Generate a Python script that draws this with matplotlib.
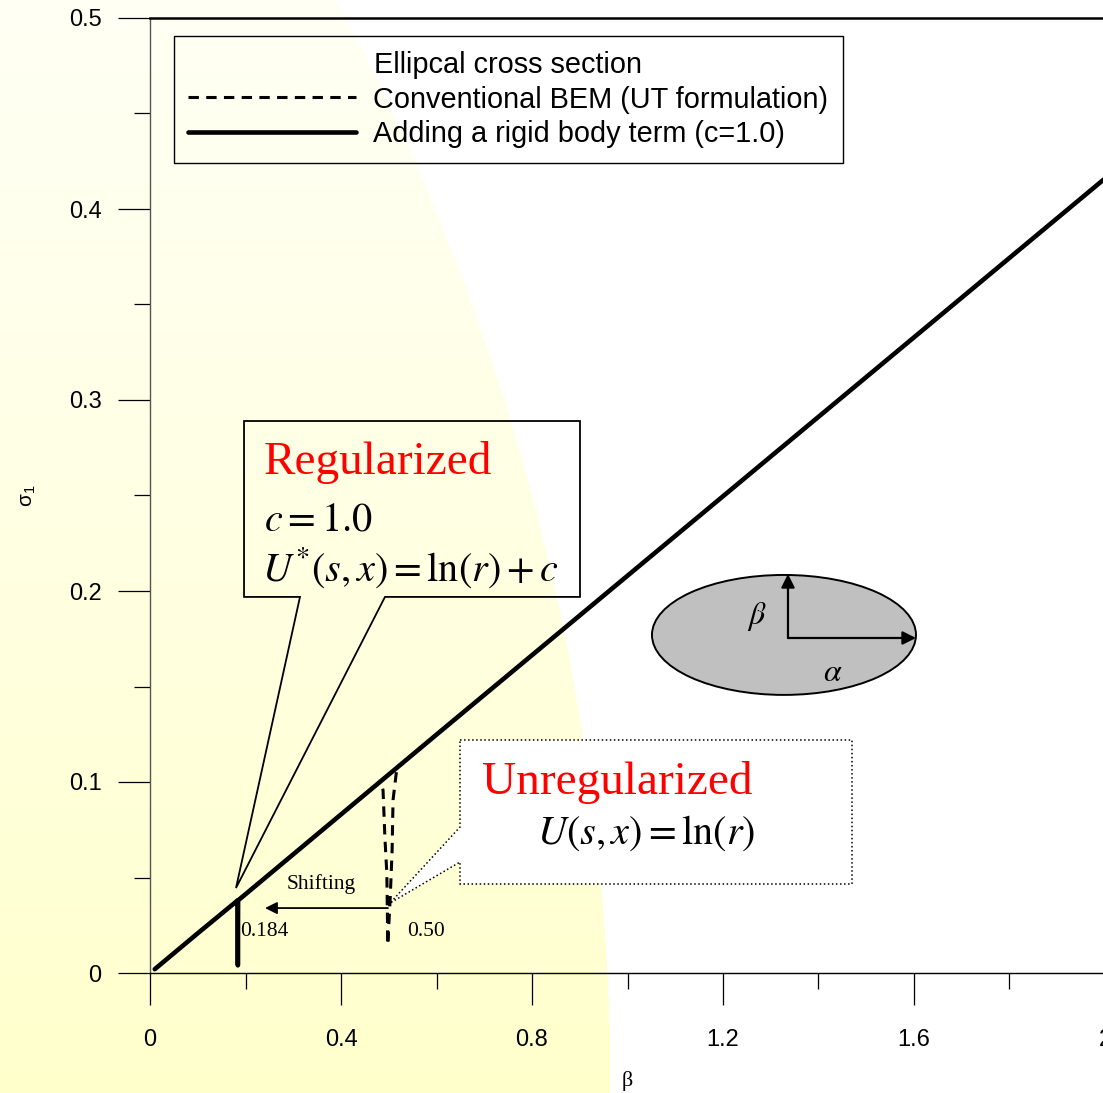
import numpy as np
import matplotlib
matplotlib.use('Agg')
import matplotlib.pyplot as plt
from matplotlib.patches import Polygon, Ellipse

plt.rcParams['font.family'] = 'Liberation Sans'
plt.rcParams['mathtext.fontset'] = 'stix'

# --- data ---
# rigid body term c=1.0 (solid): straight line with a spike at the degenerate scale 0.184
beta_rigid  = [0.010, 0.100, 0.1835, 0.1840, 0.1845, 0.600, 1.200, 2.000]
sigma_rigid = [0.002, 0.0208, 0.0380, 0.0040, 0.0380, 0.1248, 0.2496, 0.4160]

# conventional BEM (UT formulation, dashed): spike at 0.50
beta_conv  = [0.010, 0.100, 0.300, 0.483, 0.488, 0.492, 0.496, 0.498, 0.499,
              0.503, 0.507, 0.509, 0.517, 0.600, 1.200, 2.000]
sigma_conv = [0.002, 0.0208, 0.0621, 0.1003, 0.0958, 0.0707, 0.0520, 0.0147, 0.0200,
              0.0390, 0.0640, 0.0906, 0.1074, 0.1248, 0.2496, 0.4160]

xticks = [0, 0.4, 0.8, 1.2, 1.6, 2.0]
xtick_labels = ['0', '0.4', '0.8', '1.2', '1.6', '2']
yticks = [0, 0.1, 0.2, 0.3, 0.4, 0.5]
ytick_labels = ['0', '0.1', '0.2', '0.3', '0.4', '0.5']

legend_title = 'Ellipcal cross section'
label_conv = 'Conventional BEM (UT formulation)'
label_rigid = 'Adding a rigid body term (c=1.0)'

W, H = 1103, 1093
fig = plt.figure(figsize=(W / 100, H / 100), dpi=100)

# yellow gradient background (slide style)
bg = fig.add_axes([0, 0, 1, 1], zorder=-1)
yy, xx = np.mgrid[0:H, 0:W]
inside = (xx + 1709) ** 2 + (yy - 1093) ** 2 <= 2319 ** 2
img = np.ones((H, W, 3))
img[..., 2] = np.where(inside, 0.955 - 0.155 * (yy / H) ** 1.2, 1.0)
bg.imshow(img, aspect='auto', extent=[0, 1, 0, 1], interpolation='nearest')
bg.axis('off')

ax = fig.add_axes([150 / W, 120 / H, 955 / W, 955 / H])
ax.patch.set_alpha(0)

ax.plot(beta_conv, sigma_conv, color='black', lw=2.2, ls=(0, (3.4, 2.4)),
        label=label_conv, zorder=3)
ax.plot(beta_rigid, sigma_rigid, color='black', lw=3.3, label=label_rigid,
        solid_capstyle='round', zorder=4)

ax.set_xlim(0, 2)
ax.set_ylim(0, 0.5)
ax.set_xticks(xticks)
ax.set_xticklabels(xtick_labels)
ax.set_yticks(yticks)
ax.set_yticklabels(ytick_labels)
ax.set_xticks(np.arange(0.2, 2.0, 0.4), minor=True)
ax.set_yticks(np.arange(0.05, 0.5, 0.1), minor=True)
ax.tick_params(which='major', direction='out', length=23, width=0.9, labelsize=17, pad=17)
ax.tick_params(which='minor', direction='out', length=11.5, width=0.9)
ax.tick_params(axis='y', which='major', pad=12)

ax.spines['right'].set_visible(False)
ax.spines['left'].set_color('#555555')
ax.spines['left'].set_linewidth(1.0)
ax.spines['bottom'].set_linewidth(1.0)
ax.spines['top'].set_linewidth(1.8)

ax.set_xlabel('β', family='Liberation Serif', fontsize=16)
ax.xaxis.set_label_coords(0.5, -0.103)
ax.set_ylabel(r'$\mathregular{σ_1}$', fontsize=15)
ax.yaxis.set_label_coords(-0.117, 0.5)

leg = ax.legend(title=legend_title, loc='upper left', bbox_to_anchor=(0.0251, 0.981),
                borderaxespad=0, fontsize=20.8, title_fontsize=20.8, handlelength=5.8,
                handletextpad=0.6, borderpad=0.5, labelspacing=0.24, fancybox=False,
                edgecolor='black', facecolor='none', framealpha=1)
leg.get_frame().set_linewidth(1.0)
leg.set_zorder(5)

# regularized callout (transparent)
reg_box = [(0.1969, 0.2890), (0.9005, 0.2890), (0.9005, 0.1969), (0.4921, 0.1969),
           (0.1801, 0.0445), (0.3141, 0.1969), (0.1969, 0.1969)]
ax.add_patch(Polygon(reg_box, closed=True, facecolor='none', edgecolor='black', lw=1.3, zorder=2))
ax.text(0.2387, 0.2675, 'Regularized', color='red', family='Liberation Serif',
        fontsize=34, va='center', ha='left', zorder=6)
ax.text(0.2387, 0.2372, r'$c=1.0$', fontsize=29, va='center', ha='left', zorder=6)
ax.text(0.2345, 0.2120, r'$U^{*}(s,x)=\mathrm{ln}(r)+c$', fontsize=29,
        va='center', ha='left', zorder=6)

# unregularized callout (white, dotted)
unreg_box = [(0.6492, 0.1220), (1.4702, 0.1220), (1.4702, 0.0466), (0.6492, 0.0466),
             (0.6492, 0.0581), (0.5026, 0.0366), (0.6492, 0.0764)]
ax.add_patch(Polygon(unreg_box, closed=True, facecolor='white', edgecolor='black',
                     lw=1.1, ls=':', zorder=2))
ax.text(0.6953, 0.1000, 'Unregularized', color='red', family='Liberation Serif',
        fontsize=34, va='center', ha='left', zorder=6)
ax.text(0.8105, 0.0733, r'$U(s,x)=\mathrm{ln}(r)$', fontsize=29,
        va='center', ha='left', zorder=6)

# ellipse sketch
ax.add_patch(Ellipse((1.3277, 0.1770), 0.5529, 0.0628, facecolor='#c0c0c0',
                     edgecolor='black', lw=1.4, zorder=2))
arrow = dict(arrowstyle='-|>', mutation_scale=20, lw=1.6, color='black',
             shrinkA=0, shrinkB=0)
ax.annotate('', xy=(1.3361, 0.2089), xytext=(1.3361, 0.1754), arrowprops=arrow, zorder=3)
ax.annotate('', xy=(1.6042, 0.1754), xytext=(1.3361, 0.1754), arrowprops=arrow, zorder=3)
ax.text(1.2712, 0.1864, r'$\beta$', fontsize=23, ha='center', va='center')
ax.text(1.4304, 0.1571, r'$\alpha$', fontsize=23, ha='center', va='center')

# shifting arrow
ax.annotate('', xy=(0.2408, 0.0340), xytext=(0.4984, 0.0340),
            arrowprops=dict(arrowstyle='-|>', mutation_scale=18, lw=1.3, color='black',
                            shrinkA=0, shrinkB=0))
ax.text(0.3581, 0.0466, 'Shifting', family='Liberation Serif', fontsize=15.5,
        ha='center', va='center')
ax.text(0.1885, 0.0215, '0.184', family='Liberation Serif', fontsize=15.5,
        ha='left', va='center', zorder=2)
ax.text(0.5382, 0.0215, '0.50', family='Liberation Serif', fontsize=15.5,
        ha='left', va='center')

fig.savefig('out.png', dpi=100)
